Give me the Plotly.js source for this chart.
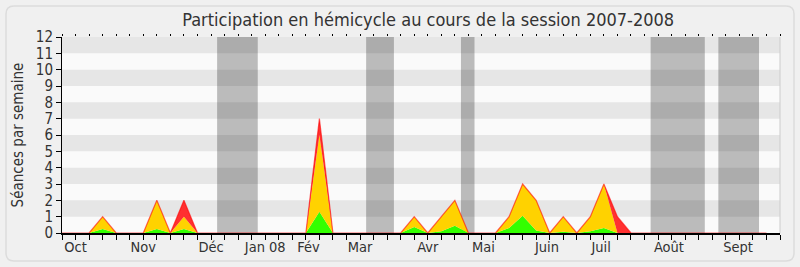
<!DOCTYPE html>
<html>
<head>
<meta charset="utf-8">
<script src="https://cdn.plot.ly/plotly-3.0.1.min.js"></script>
<style>
  html, body { margin: 0; padding: 0; background: #f0f0f0; }
  #chart { width: 800px; height: 267px; }
</style>
</head>
<body>
<div id="chart"></div>
<script>
// Week index (0 = first week of the session)
const weeks = [0,1,2,3,4,5,6,7,8,9,10,11,12,13,14,15,16,17,18,19,20,21,22,23,24,25,26,
               27,28,29,30,31,32,33,34,35,36,37,38,39,40,41,42,43,44,45,46,47,48,49,50,51,52];
// Total sittings in the week (red top)
const seances = [0,0,0,1,0,0,0,2,0,2,0,0,0,0,0,0,0,0,0,7,0,0,0,0,0,0,1,
                 0,1,2,0,0,0,1,3,2,0,1,0,1,3,1,0,0,0,0,0,0,0,0,0,0,0];
// Presences (yellow top)
const presences = [0,0,0,1,0,0,0,2,0,1,0,0,0,0,0,0,0,0,0,6,0,0,0,0,0,0,1,
                   0,1,2,0,0,0,1,3,2,0,1,0,1,3,0,0,0,0,0,0,0,0,0,0,0,0];
// Interventions (green)
const interventions = [0,0,0,0.25,0,0,0,0.25,0,0.25,0,0,0,0,0,0,0,0,0,1.3,0,0,0,0,0,0,0.37,
                       0,0.1,0.45,0,0,0,0.3,1.05,0.15,0,0.08,0,0.1,0.3,0,0,0,0,0,0,0,0,0,0,0,0];
// Month labels and their positions (in weeks)
const monthLabels = ["Oct","Nov","Déc","Jan 08","Fév","Mar","Avr","Mai","Juin","Juil","Août","Sept"];
const monthPos = [1, 6, 11, 15, 18.2, 22, 27, 31.1, 35.8, 39.8, 44.8, 49.9];
// Holiday periods (in weeks)
const vacStart = [11.45, 22.45, 29.45, 43.45, 48.45];
const vacEnd   = [14.45, 24.5, 30.45, 47.45, 51.45];

const FONT = "'DejaVu Sans Condensed', 'DejaVu Sans', sans-serif";

const traces = [
  { x: weeks, y: interventions, type: 'scatter', mode: 'lines', fill: 'tozeroy',
    fillcolor: '#33ff00', line: { width: 0, color: '#33ff00' }, hoverinfo: 'skip', xaxis: 'x', yaxis: 'y' },
  { x: weeks, y: presences, type: 'scatter', mode: 'lines', fill: 'tonexty',
    fillcolor: '#ffd200', line: { width: 0, color: '#ffd200' }, hoverinfo: 'skip', xaxis: 'x', yaxis: 'y' },
  { x: weeks, y: seances, type: 'scatter', mode: 'lines', fill: 'tonexty',
    fillcolor: '#ff3030', line: { width: 1.2, color: 'rgba(255,0,0,0.6)' }, hoverinfo: 'skip', xaxis: 'x', yaxis: 'y' },
  // invisible trace to activate the top tick axis
  { x: [0], y: [0], type: 'scatter', mode: 'markers', marker: { opacity: 0 }, hoverinfo: 'skip', xaxis: 'x2', yaxis: 'y' }
];

const shapes = [];
// Horizontal stripes
for (let n = 1; n < 12; n += 2) {
  shapes.push({ type: 'rect', xref: 'paper', yref: 'y', x0: 0, x1: 1, y0: n, y1: n + 1,
    fillcolor: '#e6e6e6', line: { width: 0 }, layer: 'below' });
}
// Holiday bands
for (let i = 0; i < vacStart.length; i++) {
  shapes.push({ type: 'rect', xref: 'x', yref: 'paper', x0: vacStart[i], x1: vacEnd[i], y0: 0, y1: 1,
    fillcolor: 'rgba(0,0,0,0.25)', line: { width: 0 }, layer: 'below' });
}
// right border of plot
shapes.push({ type: 'line', xref: 'paper', yref: 'paper', x0: 1, x1: 1, y0: 0, y1: 1,
  line: { color: '#cccccc', width: 1 } });

// Rounded outer frame (pixel geometry converted to paper coords)
const L = 62, T = 37, W = 718, H = 196;
function px(x) { return ((x - L) / W).toFixed(5); }
function py(y) { return ((T + H - y) / H).toFixed(5); }
const fx0 = 6, fx1 = 794, fy0 = 6, fy1 = 261, rr = 8;
const framePath = [
  'M', px(fx0 + rr), py(fy0),
  'L', px(fx1 - rr), py(fy0),
  'Q', px(fx1), py(fy0), px(fx1), py(fy0 + rr),
  'L', px(fx1), py(fy1 - rr),
  'Q', px(fx1), py(fy1), px(fx1 - rr), py(fy1),
  'L', px(fx0 + rr), py(fy1),
  'Q', px(fx0), py(fy1), px(fx0), py(fy1 - rr),
  'L', px(fx0), py(fy0 + rr),
  'Q', px(fx0), py(fy0), px(fx0 + rr), py(fy0), 'Z'
].join(' ');
shapes.unshift({ type: 'path', xref: 'paper', yref: 'paper', path: framePath,
  fillcolor: 'rgba(0,0,0,0)', line: { color: '#dcdcdc', width: 1.5 }, layer: 'below' });

const layout = {
  width: 800, height: 267,
  margin: { l: L, r: 800 - L - W, t: T, b: 267 - T - H, pad: 0 },
  paper_bgcolor: '#f0f0f0',
  plot_bgcolor: '#fafafa',
  showlegend: false,
  font: { family: FONT, color: '#333333', size: 14 },
  title: { text: 'Participation en hémicycle au cours de la session 2007-2008',
    font: { family: FONT, size: 18, color: '#333333' }, x: 0.51, xref: 'paper', y: 0.925, yref: 'container', yanchor: 'middle' },
  xaxis: {
    range: [0, 53], tickmode: 'array', tickvals: monthPos, ticktext: monthLabels,
    ticks: '', showgrid: false, zeroline: false, showline: true, linecolor: '#000000', linewidth: 1.5,
    tickfont: { family: FONT, size: 14.5, color: '#333333' },
    minor: { tickmode: 'linear', tick0: 0, dtick: 1, ticks: 'outside', ticklen: 5, tickcolor: '#000000', tickwidth: 1, showgrid: false },
    fixedrange: true
  },
  xaxis2: {
    overlaying: 'x', side: 'top', anchor: 'y', range: [0, 53], tickmode: 'linear', tick0: 0, dtick: 1,
    ticks: 'outside', ticklen: 2, tickcolor: '#000000', tickwidth: 1, showticklabels: false,
    showgrid: false, zeroline: false, showline: false
  },
  yaxis: {
    range: [0, 12], tickmode: 'linear', tick0: 0, dtick: 1, ticks: 'outside', ticklen: 5,
    tickcolor: '#000000', showgrid: false, zeroline: false, showline: true, linecolor: '#000000', linewidth: 1,
    tickfont: { family: FONT, size: 15, color: '#333333' },
    title: { text: 'Séances par semaine', font: { family: FONT, size: 15, color: '#333333' }, standoff: 8 },
    fixedrange: true
  },
  shapes: shapes
};

Plotly.newPlot('chart', traces, layout, { displayModeBar: false, staticPlot: true });
</script>
</body>
</html>
